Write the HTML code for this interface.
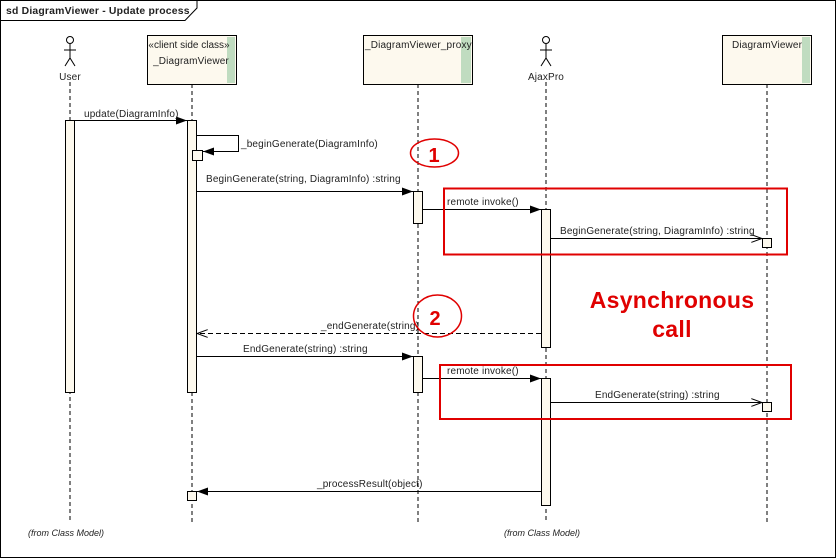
<!DOCTYPE html>
<html><head><meta charset="utf-8"><style>
html,body{margin:0;padding:0;background:#fff;}
svg{display:block;}
text{font-family:"Liberation Sans",sans-serif;font-size:10px;letter-spacing:0.15px;fill:#222;}
</style></head><body>
<svg width="837" height="559" viewBox="0 0 837 559" xmlns="http://www.w3.org/2000/svg">
<defs>
<marker id="f" markerWidth="12" markerHeight="8" refX="11" refY="4" orient="auto" markerUnits="userSpaceOnUse"><path d="M0,0 L11,4 L0,8 Z" fill="#000"/></marker>
<marker id="o" markerWidth="12" markerHeight="8" refX="11" refY="4" orient="auto" markerUnits="userSpaceOnUse"><path d="M0,0 L11,4 L0,8" fill="none" stroke="#000"/></marker>
</defs>
<rect x="0.5" y="0.5" width="835" height="557" fill="#fff" stroke="#000"/>
<path d="M0.5,20.5 H185 L197,8 V0.5" fill="none" stroke="#000"/>
<text x="6" y="14" style="font-weight:bold;font-size:10.4px;letter-spacing:0.2px">sd DiagramViewer - Update process</text>

<g stroke="#000" stroke-dasharray="4,3">
<line x1="70" y1="82" x2="70" y2="522"/>
<line x1="192" y1="84" x2="192" y2="522"/>
<line x1="418" y1="84" x2="418" y2="522"/>
<line x1="546" y1="82" x2="546" y2="522"/>
<line x1="767" y1="84" x2="767" y2="522"/>
</g>

<g stroke="#000" fill="none">
<circle cx="70" cy="40" r="3.5" fill="#fff"/><line x1="70" y1="44" x2="70" y2="58"/><line x1="64" y1="50" x2="76" y2="50"/><path d="M65,66 L70,58 L75,66"/>
<circle cx="546" cy="40" r="3.5" fill="#fff"/><line x1="546" y1="44" x2="546" y2="58"/><line x1="540" y1="50" x2="552" y2="50"/><path d="M541,66 L546,58 L551,66"/>
</g>
<text x="70" y="80" text-anchor="middle">User</text>
<text x="546" y="80" text-anchor="middle">AjaxPro</text>

<rect x="147.5" y="35.5" width="89" height="49" fill="#fdf9ee" stroke="#000"/>
<rect x="227" y="37" width="8" height="46" fill="#c0dcc0"/>
<text x="189" y="48" text-anchor="middle" style="letter-spacing:0">«client side class»</text>
<text x="191" y="64" text-anchor="middle">_DiagramViewer</text>
<rect x="363.5" y="35.5" width="109" height="49" fill="#fdf9ee" stroke="#000"/>
<rect x="461" y="37" width="10" height="46" fill="#c0dcc0"/>
<text x="365" y="48">_DiagramViewer_proxy</text>
<rect x="722.5" y="35.5" width="89" height="49" fill="#fdf9ee" stroke="#000"/>
<rect x="802" y="37" width="8" height="46" fill="#c0dcc0"/>
<text x="732" y="48">DiagramViewer</text>

<g fill="#fdf9ee" stroke="#000">
<rect x="65.5" y="120.5" width="9" height="272"/>
<rect x="187.5" y="120.5" width="9" height="272"/>
<rect x="192.5" y="150.5" width="10" height="10"/>
<rect x="413.5" y="191.5" width="9" height="32"/>
<rect x="541.5" y="209.5" width="9" height="138"/>
<rect x="762.5" y="238.5" width="9" height="9"/>
<rect x="413.5" y="356.5" width="9" height="36"/>
<rect x="541.5" y="378.5" width="9" height="127"/>
<rect x="762.5" y="402.5" width="9" height="9"/>
<rect x="187.5" y="491.5" width="9" height="9"/>
</g>

<g stroke="#000" fill="none">
<line x1="75" y1="120.5" x2="187" y2="120.5" marker-end="url(#f)"/>
<path d="M197,135.5 H238.5 V151.5 H203" marker-end="url(#f)"/>
<line x1="197" y1="191.5" x2="413" y2="191.5" marker-end="url(#f)"/>
<line x1="423" y1="209.5" x2="541" y2="209.5" marker-end="url(#f)"/>
<line x1="551" y1="238.5" x2="762" y2="238.5" marker-end="url(#o)"/>
<line x1="541" y1="333.5" x2="197" y2="333.5" stroke-dasharray="5,3" marker-end="url(#o)"/>
<line x1="197" y1="356.5" x2="413" y2="356.5" marker-end="url(#f)"/>
<line x1="423" y1="378.5" x2="541" y2="378.5" marker-end="url(#f)"/>
<line x1="551" y1="402.5" x2="762" y2="402.5" marker-end="url(#o)"/>
<line x1="541" y1="491.5" x2="197" y2="491.5" marker-end="url(#f)"/>
</g>
<text x="84" y="117">update(DiagramInfo)</text>
<text x="241" y="147">_beginGenerate(DiagramInfo)</text>
<text x="206" y="182">BeginGenerate(string, DiagramInfo) :string</text>
<text x="447" y="205">remote invoke()</text>
<text x="560" y="234">BeginGenerate(string, DiagramInfo) :string</text>
<text x="321" y="329">_endGenerate(string)</text>
<text x="243" y="352">EndGenerate(string) :string</text>
<text x="447" y="374">remote invoke()</text>
<text x="595" y="398">EndGenerate(string) :string</text>
<text x="317" y="487">_processResult(object)</text>

<g fill="none" stroke="#e00000" stroke-width="2">
<rect x="444" y="188.5" width="343" height="66"/>
<rect x="440" y="365" width="351" height="54"/>
<ellipse cx="434.5" cy="153" rx="24" ry="14" stroke-width="1.5"/>
<ellipse cx="437.5" cy="316" rx="24" ry="21" stroke-width="1.5"/>
</g>
<text x="434" y="162" text-anchor="middle" style="fill:#e00000;font-weight:bold;font-size:20px;letter-spacing:0">1</text>
<text x="435" y="325" text-anchor="middle" style="fill:#e00000;font-weight:bold;font-size:20px;letter-spacing:0">2</text>
<text x="672" y="308" text-anchor="middle" style="fill:#e00000;font-weight:bold;font-size:23px;letter-spacing:0.3px">Asynchronous</text>
<text x="672" y="337" text-anchor="middle" style="fill:#e00000;font-weight:bold;font-size:23px;letter-spacing:0.3px">call</text>

<text x="28" y="536" style="font-style:italic;font-size:9px;letter-spacing:0">(from Class Model)</text>
<text x="504" y="536" style="font-style:italic;font-size:9px;letter-spacing:0">(from Class Model)</text>
</svg>
</body></html>
